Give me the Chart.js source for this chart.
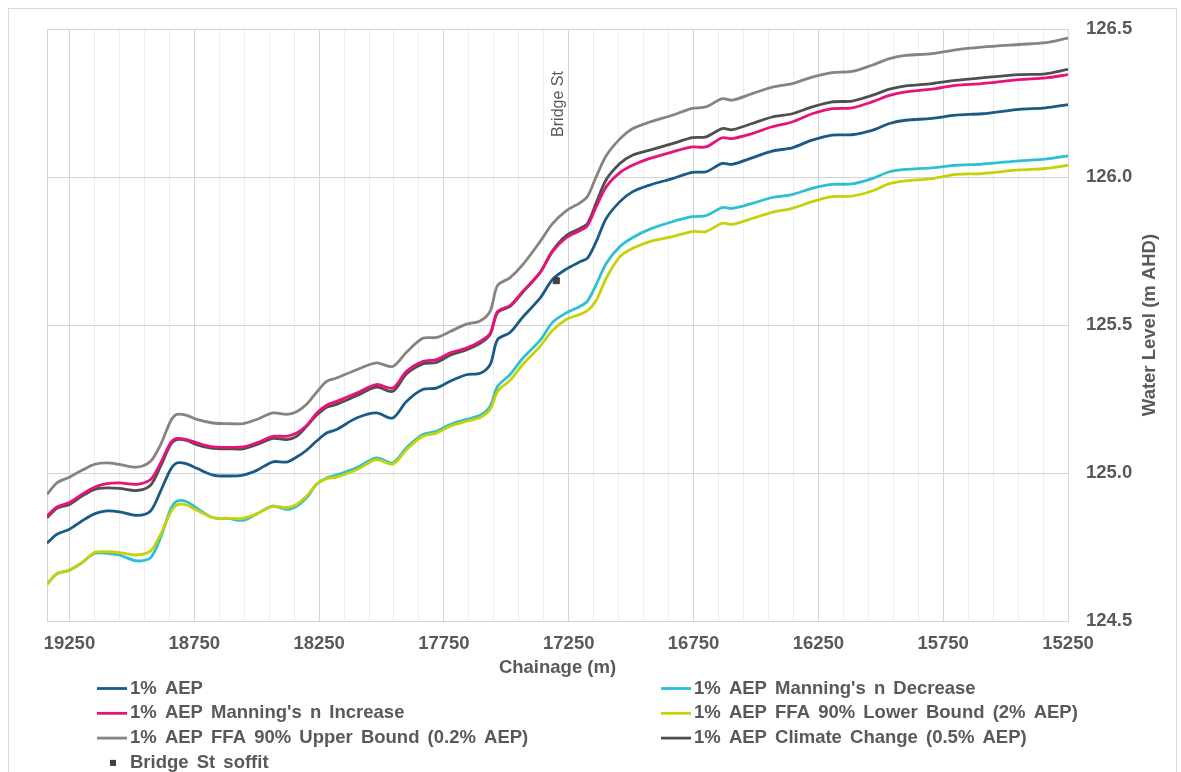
<!DOCTYPE html>
<html>
<head>
<meta charset="utf-8">
<script src="https://cdn.jsdelivr.net/npm/chart.js@4.4.1/dist/chart.umd.min.js"></script>
<style>
  html, body { margin: 0; padding: 0; background: #fff; }
  #wrap { width: 1181px; height: 772px; position: relative; }
</style>
</head>
<body>
<div id="wrap"><canvas id="canvas"></canvas></div>
<script>
// chainage (m) of the sampled points, upstream to downstream
const chainage = [19340, 19300, 19250, 19200, 19150, 19100, 19050, 18980, 18925, 18885,
  18845, 18820, 18780, 18740, 18675, 18615, 18555, 18500, 18435, 18380,
  18340, 18300, 18260, 18220, 18180, 18100, 18020, 17955, 17900, 17835,
  17780, 17725, 17660, 17605, 17565, 17535, 17485, 17435, 17365, 17315,
  17260, 17205, 17175, 17140, 17100, 17045, 16995, 16925, 16835, 16755,
  16700, 16635, 16595, 16515, 16435, 16355, 16275, 16195, 16115, 16035,
  15965, 15900, 15795, 15700, 15595, 15445, 15340, 15250];

// water levels (m AHD)
const aep1 = [124.763, 124.793, 124.810, 124.838, 124.862, 124.872, 124.869, 124.857, 124.872, 124.939,
  125.012, 125.034, 125.031, 125.016, 124.993, 124.990, 124.993, 125.009, 125.038, 125.037,
  125.054, 125.077, 125.108, 125.135, 125.147, 125.186, 125.203, 125.186, 125.242, 125.282,
  125.287, 125.310, 125.332, 125.337, 125.366, 125.451, 125.475, 125.526, 125.591, 125.654,
  125.689, 125.714, 125.726, 125.782, 125.860, 125.917, 125.950, 125.973, 125.995, 126.016,
  126.018, 126.046, 126.043, 126.065, 126.088, 126.099, 126.125, 126.142, 126.143, 126.158,
  126.181, 126.192, 126.198, 126.209, 126.214, 126.229, 126.234, 126.245];

const manningDecrease = [124.624, 124.660, 124.672, 124.697, 124.728, 124.729, 124.723, 124.703, 124.714, 124.782,
  124.877, 124.905, 124.903, 124.881, 124.849, 124.847, 124.840, 124.862, 124.888, 124.877,
  124.888, 124.916, 124.962, 124.983, 124.993, 125.018, 125.051, 125.034, 125.085, 125.130,
  125.141, 125.164, 125.181, 125.195, 125.226, 125.293, 125.333, 125.387, 125.448, 125.509,
  125.541, 125.563, 125.581, 125.637, 125.708, 125.765, 125.795, 125.824, 125.849, 125.866,
  125.870, 125.897, 125.894, 125.911, 125.931, 125.941, 125.962, 125.975, 125.977, 125.995,
  126.018, 126.026, 126.031, 126.040, 126.044, 126.055, 126.061, 126.072];

const manningIncrease = [124.855, 124.885, 124.900, 124.928, 124.952, 124.964, 124.967, 124.962, 124.978, 125.034,
  125.102, 125.117, 125.113, 125.102, 125.088, 125.087, 125.088, 125.102, 125.124, 125.124,
  125.135, 125.161, 125.202, 125.229, 125.242, 125.270, 125.299, 125.287, 125.344, 125.377,
  125.383, 125.406, 125.422, 125.445, 125.472, 125.546, 125.566, 125.613, 125.677, 125.748,
  125.795, 125.819, 125.836, 125.900, 125.967, 126.015, 126.040, 126.063, 126.085, 126.102,
  126.102, 126.133, 126.130, 126.147, 126.170, 126.186, 126.214, 126.231, 126.234, 126.254,
  126.276, 126.288, 126.297, 126.310, 126.316, 126.329, 126.335, 126.346];

const ffaLower = [124.624, 124.660, 124.672, 124.697, 124.731, 124.734, 124.731, 124.723, 124.737, 124.793,
  124.866, 124.892, 124.892, 124.874, 124.849, 124.847, 124.847, 124.862, 124.888, 124.883,
  124.894, 124.922, 124.962, 124.981, 124.986, 125.011, 125.045, 125.030, 125.079, 125.124,
  125.135, 125.158, 125.175, 125.188, 125.215, 125.276, 125.313, 125.366, 125.428, 125.482,
  125.519, 125.536, 125.549, 125.583, 125.658, 125.731, 125.759, 125.782, 125.799, 125.816,
  125.816, 125.844, 125.840, 125.860, 125.881, 125.894, 125.917, 125.934, 125.936, 125.953,
  125.978, 125.987, 125.995, 126.009, 126.012, 126.024, 126.029, 126.040];

const ffaUpper = [124.928, 124.967, 124.986, 125.009, 125.029, 125.034, 125.029, 125.020, 125.040, 125.096,
  125.175, 125.198, 125.195, 125.181, 125.169, 125.167, 125.167, 125.181, 125.203, 125.198,
  125.207, 125.232, 125.273, 125.310, 125.321, 125.349, 125.372, 125.360, 125.408, 125.455,
  125.458, 125.478, 125.503, 125.514, 125.546, 125.634, 125.660, 125.703, 125.782, 125.843,
  125.886, 125.913, 125.934, 126.001, 126.072, 126.129, 126.163, 126.186, 126.209, 126.232,
  126.237, 126.265, 126.260, 126.282, 126.304, 126.316, 126.338, 126.353, 126.357, 126.378,
  126.400, 126.411, 126.417, 126.430, 126.439, 126.448, 126.454, 126.470];

const climateChange = [124.849, 124.881, 124.894, 124.922, 124.945, 124.950, 124.948, 124.941, 124.959, 125.023,
  125.096, 125.113, 125.110, 125.096, 125.083, 125.082, 125.082, 125.096, 125.117, 125.113,
  125.124, 125.158, 125.195, 125.222, 125.232, 125.261, 125.290, 125.276, 125.335, 125.369,
  125.374, 125.398, 125.416, 125.438, 125.468, 125.542, 125.563, 125.610, 125.677, 125.751,
  125.802, 125.826, 125.843, 125.913, 125.991, 126.046, 126.074, 126.091, 126.113, 126.133,
  126.136, 126.164, 126.160, 126.181, 126.203, 126.214, 126.237, 126.254, 126.257, 126.276,
  126.297, 126.308, 126.316, 126.327, 126.335, 126.346, 126.349, 126.364];

const soffitChainage = [17300];
const soffitLevel = [125.65];
const bridgeName = "Bridge St";

const majorTicks = [19250, 18750, 18250, 17750, 17250, 16750, 16250, 15750, 15250];
const minorTicks = [];
for (let v = 15250; v <= 19250; v += 100) minorTicks.push(v);
const levelTicks = [124.5, 125.0, 125.5, 126.0, 126.5];

const FONT = '"Liberation Sans", Arial, sans-serif';
const TEXT = "#595959";

function pts(ys) {
    return chainage.map((c, i) => ({ x: c, y: ys[i] }));
}

function lineSet(label, ys, color, order) {
    return {
        label: label,
        data: pts(ys),
        borderColor: color,
        backgroundColor: color,
        borderWidth: 2.8,
        pointRadius: 0,
        tension: 0.3,
        fill: false,
        order: order
    };
}

const framePlugin = {
    id: "frame",
    beforeDraw(chart) {
        const ctx = chart.ctx;
        ctx.save();
        ctx.fillStyle = "#fff";
        ctx.fillRect(0, 0, chart.width, chart.height);
        ctx.strokeStyle = "#d9d9d9";
        ctx.lineWidth = 1;
        ctx.strokeRect(8.5, 8.5, 1168, 800);
        ctx.restore();
    },
    beforeDatasetsDraw(chart) {
        const a = chart.chartArea;
        const ctx = chart.ctx;
        ctx.save();
        ctx.strokeStyle = "#d4d4d4";
        ctx.lineWidth = 1;
        ctx.strokeRect(Math.round(a.left) + 0.5, Math.round(a.top) + 0.5,
            Math.round(a.right - a.left), Math.round(a.bottom - a.top));
        ctx.restore();
    },
    afterDraw(chart) {
        const ctx = chart.ctx;
        const xs = chart.scales.x;
        ctx.save();
        // bridge name
        ctx.fillStyle = TEXT;
        ctx.font = "16px " + FONT;
        ctx.textAlign = "center";
        ctx.textBaseline = "middle";
        ctx.translate(xs.getPixelForValue(soffitChainage[0]) + 2, 104);
        ctx.rotate(-Math.PI / 2);
        ctx.fillText(bridgeName, 0, 0);
        ctx.restore();

        // y axis title, reading upwards
        ctx.save();
        ctx.fillStyle = TEXT;
        ctx.font = "bold 18.5px " + FONT;
        ctx.textAlign = "center";
        ctx.textBaseline = "middle";
        ctx.translate(1150, 325);
        ctx.rotate(-Math.PI / 2);
        ctx.fillText("Water Level (m AHD)", 0, 0);
        ctx.restore();

        // two column legend
        ctx.save();
        ctx.font = "bold 18.5px " + FONT;
        ctx.textBaseline = "middle";
        if ("wordSpacing" in ctx) ctx.wordSpacing = "3px";
        chart.data.datasets.forEach((ds, i) => {
            const col = i % 2;
            const row = Math.floor(i / 2);
            const x = col === 0 ? 97 : 661;
            const y = 688.5 + row * 24.8;
            if (ds.showLine === false) {
                ctx.fillStyle = ds.backgroundColor;
                ctx.fillRect(x + 13, y - 3, 6, 6);
            } else {
                ctx.strokeStyle = ds.borderColor;
                ctx.lineWidth = 2.8;
                ctx.beginPath();
                ctx.moveTo(x, y);
                ctx.lineTo(x + 30, y);
                ctx.stroke();
            }
            ctx.fillStyle = TEXT;
            ctx.fillText(ds.label, x + 33, y);
        });
        ctx.restore();
    }
};

const config = {
    type: "line",
    data: {
        datasets: [
            lineSet("1% AEP", aep1, "#1a5a86", 7),
            lineSet("1% AEP Manning's n Decrease", manningDecrease, "#2cc0d2", 6),
            lineSet("1% AEP Manning's n Increase", manningIncrease, "#e8127a", 2),
            lineSet("1% AEP FFA 90% Lower Bound (2% AEP)", ffaLower, "#c5d20a", 5),
            lineSet("1% AEP FFA 90% Upper Bound (0.2% AEP)", ffaUpper, "#8a837d", 4),
            lineSet("1% AEP Climate Change (0.5% AEP)", climateChange, "#4f4f4f", 3),
            {
                label: "Bridge St soffit",
                data: soffitChainage.map((c, i) => ({ x: c, y: soffitLevel[i] })),
                showLine: false,
                pointStyle: "rect",
                pointRadius: 4.3,
                pointBackgroundColor: "#404040",
                pointBorderColor: "#404040",
                backgroundColor: "#404040",
                borderColor: "#404040",
                order: 1
            }
        ]
    },
    options: {
        responsive: true,
        maintainAspectRatio: false,
        animation: false,
        layout: { padding: { left: 47, top: 27, right: 0, bottom: 91 } },
        plugins: {
            legend: { display: false },
            tooltip: { enabled: false }
        },
        scales: {
            x: {
                type: "linear",
                reverse: true,
                min: 15250,
                max: 19340,
                afterBuildTicks: (scale) => {
                    scale.ticks = minorTicks.map(v => ({ value: v }));
                },
                afterFit: (scale) => { scale.height = 60; },
                ticks: {
                    autoSkip: false,
                    maxRotation: 0,
                    padding: 12,
                    color: TEXT,
                    font: { family: FONT, size: 18.5, weight: "bold" },
                    callback: (v) => majorTicks.includes(v) ? String(v) : ""
                },
                grid: {
                    drawTicks: false,
                    lineWidth: 1,
                    color: (c) => (c.tick && majorTicks.includes(c.tick.value)) ? "#d4d4d4" : "#ededed"
                },
                border: { display: true, color: "#d4d4d4" },
                title: {
                    display: true,
                    text: "Chainage (m)",
                    color: TEXT,
                    font: { family: FONT, size: 18.5, weight: "bold" },
                    padding: { top: 0, bottom: 2 }
                }
            },
            y: {
                position: "right",
                min: 124.5,
                max: 126.5,
                afterBuildTicks: (scale) => {
                    scale.ticks = levelTicks.map(v => ({ value: v }));
                },
                afterFit: (scale) => { scale.width = 113; },
                ticks: {
                    padding: 18,
                    color: TEXT,
                    font: { family: FONT, size: 18.5, weight: "bold" },
                    callback: (v) => Number(v).toFixed(1)
                },
                grid: { drawTicks: false, color: "#d4d4d4", lineWidth: 1 },
                border: { display: true, color: "#d4d4d4" }
            }
        }
    },
    plugins: [framePlugin]
};

const myChart = new Chart(document.getElementById("canvas").getContext("2d"), config);
</script>
</body>
</html>
